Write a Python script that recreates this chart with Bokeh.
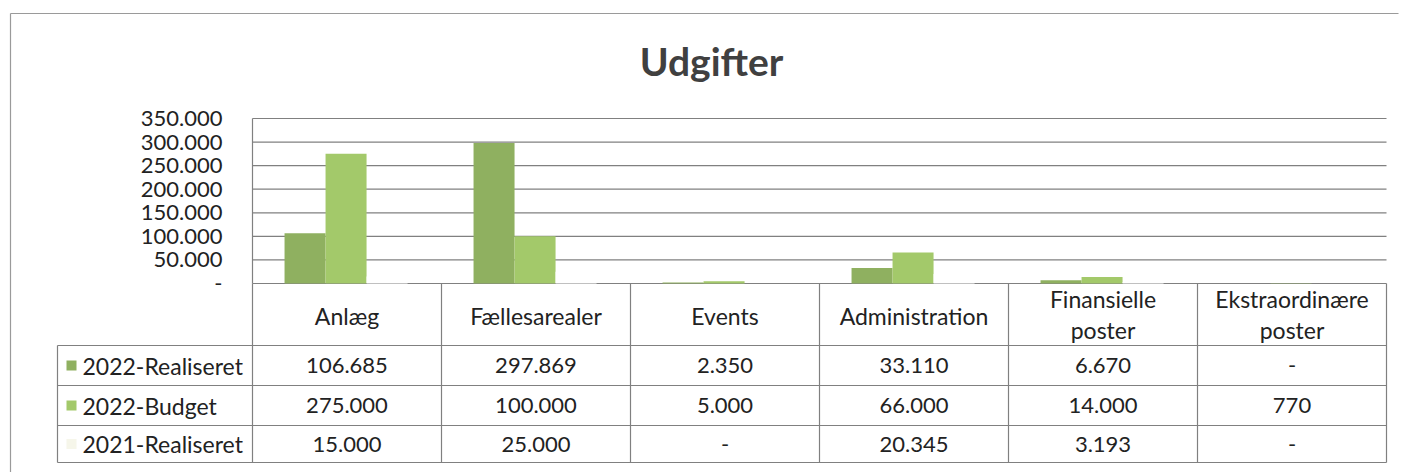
from bokeh.plotting import figure
from bokeh.models import Range1d, ColumnDataSource
from bokeh.core.properties import value
from bokeh.embed import file_html
from bokeh.resources import INLINE
from bokeh.transform import dodge

# ---------------- data ----------------
title_text = "Udgifter"
categories = ["Anlæg", "Fællesarealer", "Events", "Administration",
              "Finansielle poster", "Ekstraordinære poster"]
category_lines = [["Anlæg"], ["Fællesarealer"], ["Events"], ["Administration"],
                  ["Finansielle", "poster"], ["Ekstraordinære", "poster"]]
series_names = ["2022-Realiseret", "2022-Budget", "2021-Realiseret"]
realiseret_2022 = [106685, 297869, 2350, 33110, 6670, 0]
budget_2022 = [275000, 100000, 5000, 66000, 14000, 770]
realiseret_2021 = [15000, 25000, 0, 20345, 3193, 0]
y_ticks = [0, 50000, 100000, 150000, 200000, 250000, 300000, 350000]
series_values = [realiseret_2022, budget_2022, realiseret_2021]
series_colors = ["#8fb060", "#a3c96a", "#ffffff"]
marker_colors = ["#8fb060", "#a3c96a", "#f6f6ea"]


def fmt(v):
    return "-" if v == 0 else f"{v:,}".replace(",", ".")


# ---------------- layout (page pixel coordinates) ----------------
W, H = 1400, 472
OX, OY = 0, 0
PL, PR, PT, PB = 252, 1386, 118, 283       # plot area
LEG_L = 57                                  # table legend column left edge
ROW_EDGES = [345, 385, 425, 462]
n = len(categories)
col_w = (PR - PL) / n
vpp = y_ticks[-1] / (PB - PT)

FONT = "Lato"
TXT = "#222222"
GRID = "#808080"

p = figure(width=W, height=H,
           x_range=Range1d(-(PL - OX) / col_w, (OX + W - PL) / col_w),
           y_range=Range1d(-(OY + H - PB) * vpp, (PB - OY) * vpp),
           output_backend="svg", toolbar_location=None,
           x_axis_type=None, y_axis_type=None, min_border=0,
           outline_line_color=None, background_fill_color="white",
           border_fill_color="white")
p.extra_x_ranges = {"px": Range1d(OX, OX + W)}
p.extra_y_ranges = {"py": Range1d(OY + H, OY)}

# outer chart border (left + top)
p.segment(x0=[10, 10], y0=[13, 13], x1=[10, 1398], y1=[472, 13],
          x_range_name="px", y_range_name="py", line_color="#9a9a9a", line_width=1.2)

# title
p.text(x=[711], y=[60], text=[title_text], x_range_name="px", y_range_name="py",
       text_font=value(FONT), text_font_style="bold", text_font_size="39px",
       text_color="#404040", text_align="center", text_baseline="middle")

# gridlines + left edge of plot area
p.segment(x0=[0] * len(y_ticks), x1=[n] * len(y_ticks), y0=y_ticks, y1=y_ticks,
          line_color=GRID, line_width=1.2)
p.segment(x0=[0], x1=[0], y0=[0], y1=[y_ticks[-1]], line_color=GRID, line_width=1.2)

# y tick labels
p.text(x=[222] * len(y_ticks), y=y_ticks, text=[fmt(t) for t in y_ticks],
       y_range_name="default", x_range_name="px",
       text_font=value(FONT), text_font_size="22px", text_color=TXT,
       text_align="right", text_baseline="middle")

# bars
src = ColumnDataSource(dict(x=[i + 0.5 for i in range(n)],
                            s0=realiseret_2022, s1=budget_2022, s2=realiseret_2021))
bw = 0.217
for j, (key, col) in enumerate(zip(["s0", "s1", "s2"], series_colors)):
    p.vbar(x=dodge("x", (j - 1) * bw - 0.005, range=p.x_range), top=key, bottom=0,
           width=bw, source=src, fill_color=col, line_color=None)

# ---------------- data table ----------------
# column separators
p.segment(x0=list(range(n + 1)), x1=list(range(n + 1)),
          y0=[PB] * (n + 1), y1=[ROW_EDGES[-1]] * (n + 1),
          y_range_name="py", line_color=GRID, line_width=1.2)
# row lines
p.segment(x0=[LEG_L] * len(ROW_EDGES), x1=[PR] * len(ROW_EDGES),
          y0=ROW_EDGES, y1=ROW_EDGES,
          x_range_name="px", y_range_name="py", line_color=GRID, line_width=1.2)
p.segment(x0=[LEG_L], x1=[LEG_L], y0=[ROW_EDGES[0]], y1=[ROW_EDGES[-1]],
          x_range_name="px", y_range_name="py", line_color=GRID, line_width=1.2)

# header labels
hx, hy, ht = [], [], []
head_mid = (PB + ROW_EDGES[0]) / 2
for i, lines in enumerate(category_lines):
    if len(lines) == 1:
        hx.append(i + 0.5); hy.append(head_mid + 1); ht.append(lines[0])
    else:
        for k, ln in enumerate(lines):
            hx.append(i + 0.5); hy.append(head_mid - 16 + 31 * k); ht.append(ln)
p.text(x=hx, y=hy, text=ht, y_range_name="py",
       text_font=value(FONT), text_font_size="23px", text_color=TXT,
       text_align="center", text_baseline="middle")

# values
row_mid = [(ROW_EDGES[r] + ROW_EDGES[r + 1]) / 2 for r in range(3)]
vx, vy, vt = [], [], []
for r, vals in enumerate(series_values):
    for i, v in enumerate(vals):
        vx.append(i + 0.5); vy.append(row_mid[r]); vt.append(fmt(v))
p.text(x=vx, y=vy, text=vt, y_range_name="py",
       text_font=value(FONT), text_font_size="22px", text_color=TXT,
       text_align="center", text_baseline="middle")

# legend keys + names
p.scatter(x=[71] * 3, y=row_mid, marker="square", size=10,
          fill_color=marker_colors, line_color=None,
          x_range_name="px", y_range_name="py")
p.text(x=[82] * 3, y=row_mid, text=series_names,
       x_range_name="px", y_range_name="py",
       text_font=value(FONT), text_font_size="23px", text_color=TXT,
       text_align="left", text_baseline="middle")

open("out.html", "w").write(file_html(p, INLINE))
